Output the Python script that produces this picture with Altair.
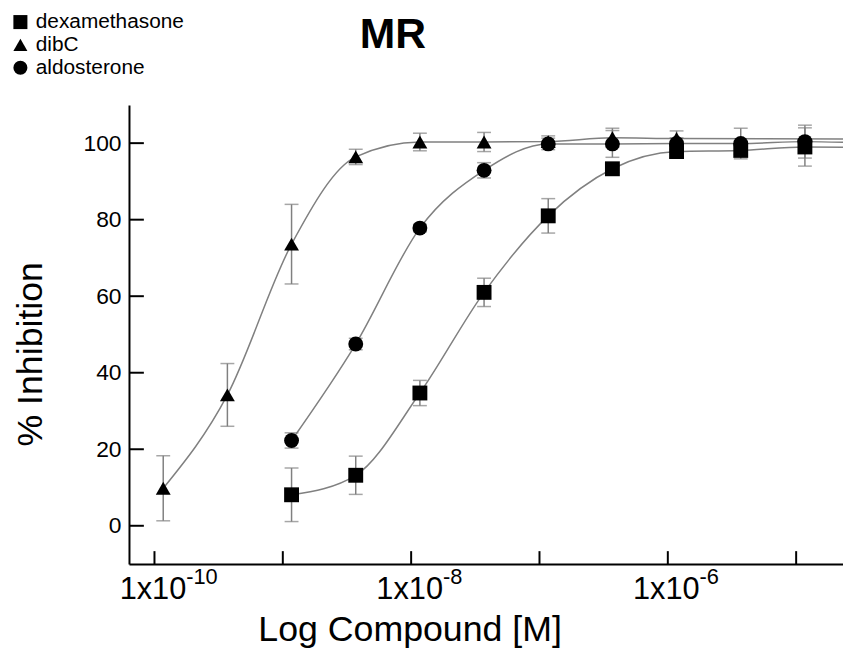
import altair as alt
import pandas as pd

# ---------------- data ----------------
compounds = ["dexamethasone", "dibC", "aldosterone"]
shapes = ["square", "triangle-up", "circle"]

dex_conc = [1.17e-9, 3.7e-9, 1.17e-8, 3.7e-8, 1.17e-7, 3.7e-7, 1.17e-6, 3.7e-6, 1.17e-5]
dex_mean = [8.1, 13.2, 34.7, 61.0, 81.0, 93.3, 97.8, 98.1, 99.0]
dex_sem = [7.0, 5.0, 3.3, 3.7, 4.5, 1.0, 1.5, 1.0, 5.0]

dibc_conc = [1.17e-10, 3.7e-10, 1.17e-9, 3.7e-9, 1.17e-8, 3.7e-8, 1.17e-7, 3.7e-7, 1.17e-6]
dibc_mean = [9.8, 34.2, 73.6, 96.4, 100.3, 100.3, 100.4, 101.4, 101.2]
dibc_sem = [8.5, 8.2, 10.4, 2.0, 2.3, 2.5, 1.5, 2.5, 2.0]

ald_conc = [1.17e-9, 3.7e-9, 1.17e-8, 3.7e-8, 1.17e-7, 3.7e-7, 1.17e-6, 3.7e-6, 1.17e-5]
ald_mean = [22.3, 47.5, 77.8, 92.9, 99.8, 99.8, 99.9, 99.9, 100.4]
ald_sem = [2.0, 1.5, 1.0, 2.0, 1.5, 3.5, 1.5, 4.0, 4.3]

# plateau of the fitted curves where they leave the plot on the right
curve_end_conc = 3.0e-5
curve_end_values = [98.9, 101.1, 100.1]

x_tick_values = [1e-10, 1e-9, 1e-8, 1e-7, 1e-6, 1e-5]
x_label_values = [1e-10, 1e-8, 1e-6]
x_label_exponents = ["-10", "-8", "-6"]
y_tick_values = [0, 20, 40, 60, 80, 100]

# ---------------- tables ----------------
rows = []
for name, cs, ms, ss in [
    ("dexamethasone", dex_conc, dex_mean, dex_sem),
    ("dibC", dibc_conc, dibc_mean, dibc_sem),
    ("aldosterone", ald_conc, ald_mean, ald_sem),
]:
    for c, m, s in zip(cs, ms, ss):
        rows.append({"compound": name, "conc": c, "mean": m, "lo": m - s, "hi": m + s})
pts = pd.DataFrame(rows)

line_rows = [dict(r) for r in rows]
for name, v in zip(compounds, curve_end_values):
    line_rows.append({"compound": name, "conc": curve_end_conc, "mean": v})
lines_df = pd.DataFrame(line_rows)

xt = pd.DataFrame({"conc": x_tick_values})
xl = pd.DataFrame({"conc": x_label_values, "sup": x_label_exponents})
yt = pd.DataFrame({"val": y_tick_values})

# ---------------- layout ----------------
W, H = 720, 463
FONT = "Liberation Sans"
GREY = "#808080"

xscale = alt.Scale(type="log", domain=[10 ** -10.1986, 10 ** -4.635])
yscale = alt.Scale(domain=[-10, 110], nice=False, zero=False)

x_axis = alt.Axis(
    values=x_label_values, labelExpr="'1x10'", ticks=False, tickSize=0, grid=False,
    domainColor="black", domainWidth=2,
    labelFont=FONT, labelFontSize=31, labelColor="black", labelBaseline="alphabetic",
    labelPadding=35, labelOffset=-2, labelAlign="center",
    title="Log Compound [M]", titleFont=FONT, titleFontSize=36, titleFontWeight="normal",
    titleColor="black", titleX=283, titleY=77, titleAlign="center", titleBaseline="alphabetic",
)
y_axis = alt.Axis(
    values=y_tick_values, ticks=False, tickSize=0, grid=False,
    domainColor="black", domainWidth=2,
    labelFont=FONT, labelFontSize=23, labelColor="black", labelPadding=8,
    title="% Inhibition", titleFont=FONT, titleFontSize=36, titleFontWeight="normal",
    titleColor="black", titleX=-88, titleY=251, titleAlign="center", titleBaseline="alphabetic",
    titleAngle=270,
)

X = alt.X("conc:Q", scale=xscale, axis=x_axis)
Y = alt.Y("mean:Q", scale=yscale, axis=y_axis)

curves = alt.Chart(lines_df).mark_line(
    color=GREY, strokeWidth=1.5, interpolate="monotone", clip=True
).encode(x=X, y=Y, detail="compound:N", order="conc:Q")

err = alt.Chart(pts).mark_rule(color=GREY, strokeWidth=1.5).encode(
    x=alt.X("conc:Q", scale=xscale), y=alt.Y("lo:Q", scale=yscale), y2="hi:Q"
)
cap_lo = alt.Chart(pts).mark_tick(color=GREY, thickness=1.5, size=14, orient="horizontal").encode(
    x=alt.X("conc:Q", scale=xscale), y=alt.Y("lo:Q", scale=yscale)
)
cap_hi = alt.Chart(pts).mark_tick(color=GREY, thickness=1.5, size=14, orient="horizontal").encode(
    x=alt.X("conc:Q", scale=xscale), y=alt.Y("hi:Q", scale=yscale)
)

points = alt.Chart(pts).mark_point(filled=True, color="black", opacity=1, size=225).encode(
    x=alt.X("conc:Q", scale=xscale),
    y=alt.Y("mean:Q", scale=yscale),
    shape=alt.Shape(
        "compound:N",
        scale=alt.Scale(domain=compounds, range=shapes),
        legend=alt.Legend(
            orient="none", legendX=-120, legendY=-94, title=None,
            labelFont=FONT, labelFontSize=21, labelColor="black", labelOffset=5,
            symbolSize=200, symbolFillColor="black", symbolStrokeColor="black",
            symbolStrokeWidth=0, symbolOpacity=1, rowPadding=1, padding=0,
        ),
    ),
)

x_ticks = alt.Chart(xt).mark_rule(color="black", strokeWidth=2).encode(
    x=alt.X("conc:Q", scale=xscale), y=alt.value(H), y2=alt.value(H - 13)
)
y_ticks = alt.Chart(yt).mark_rule(color="black", strokeWidth=2).encode(
    y=alt.Y("val:Q", scale=yscale), x=alt.value(0), x2=alt.value(15)
)
sups = alt.Chart(xl).mark_text(
    font=FONT, fontSize=22, color="black", align="left", baseline="alphabetic", dx=32
).encode(x=alt.X("conc:Q", scale=xscale), y=alt.value(483), text="sup:N")

title = alt.Chart(pd.DataFrame({"t": ["MR"]})).mark_text(
    font=FONT, fontSize=43, fontWeight="bold", color="black", align="center", baseline="alphabetic"
).encode(x=alt.value(266), y=alt.value(-57), text="t:N")

chart = alt.layer(
    curves, err, cap_lo, cap_hi, points, x_ticks, y_ticks, sups, title
).properties(
    width=W, height=H,
    autosize=alt.AutoSizeParams(type="none"),
    padding={"left": 122, "top": 95, "right": 0, "bottom": 86},
    background="white",
).configure_view(stroke=None)

chart.save("out.html", embed_options={"renderer": "svg", "actions": False})
